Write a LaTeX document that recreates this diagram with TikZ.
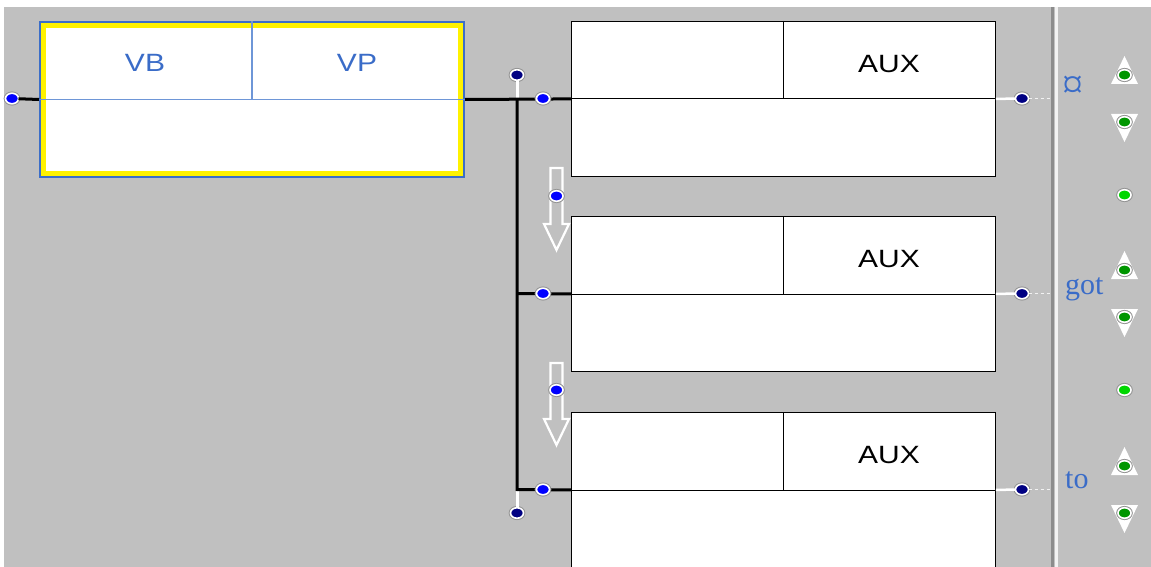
\documentclass[tikz,border=0pt]{standalone}
\usepackage{fontspec}
\setmainfont{Liberation Serif}
\newfontfamily\boxfont[FakeStretch=1.2]{Liberation Sans}
\usepackage{tikz}
\usetikzlibrary{calc,positioning,shapes.geometric}
\definecolor{panel}{RGB}{192,192,192}
\definecolor{rulegray}{RGB}{140,140,140}
\definecolor{catblue}{RGB}{58,108,200}
\definecolor{edgeblue}{RGB}{60,110,200}
\definecolor{divblue}{RGB}{110,150,215}
\definecolor{navy}{RGB}{0,0,130}
\definecolor{dotgreen}{RGB}{0,215,0}
\definecolor{trigreen}{RGB}{0,150,0}
\tikzset{
	lbox/.style={draw=edgeblue, line width=2pt, fill=white, minimum width=424pt, minimum height=155pt, inner sep=0pt, anchor=north west},
	rbox/.style={draw=black, line width=0.8pt, fill=white, minimum width=424pt, minimum height=155pt, inner sep=0pt, anchor=north west},
	cat/.style={font=\boxfont\fontsize{25}{30}\selectfont, text=catblue, inner sep=0pt},
	aux/.style={font=\boxfont\fontsize{25}{30}\selectfont, inner sep=0pt},
	word/.style={font=\fontsize{30}{36}\selectfont, text=catblue, inner sep=0pt, anchor=base west},
	pin/.style={ellipse, minimum width=13pt, minimum height=10.5pt, inner sep=0pt, outer sep=0pt, fill=blue, draw=white, line width=1.6pt, preaction={draw=gray!85, line width=3.6pt}},
	npin/.style={pin, fill=navy},
	gpin/.style={pin, fill=dotgreen},
	tpin/.style={pin, fill=trigreen},
	bar/.style={line width=3pt, black},
	wbar/.style={line width=3pt, white},
	trail/.style={white!90!gray, line width=1pt, dash pattern=on 3pt off 3pt},
	flow/.style={draw=white, line width=2.2pt, line join=miter},
}
\begin{document}
\begin{tikzpicture}[x=1pt,y=-1pt]
		\useasboundingbox (0,0) rectangle (1151,567);
		\fill[white] (0,0) rectangle (1151,567); \fill[panel] (4,7) rectangle (1151,567);
		\draw[rulegray, line width=2.5pt] (1052.5,7) -- (1052.5,567); \draw[white!90!gray, line width=3.5pt] (1056.5,7) -- (1056.5,567);

		\node[lbox] (vp) at (39,21) {};
		\draw[yellow, line width=5pt] ($(vp.north west)+(4.5,4.5)$) rectangle ($(vp.south east)+(-4.5,-4.5)$);
		\draw[divblue, line width=1.3pt] (vp.west) -- (vp.east); \draw[divblue, line width=1.3pt] (vp.north) -- (vp.center);
		\node[cat] (vb) at (145,63) {VB}; \node[cat] (vpl) at (357,63) {VP};

		\node[rbox] (r1) at (571,21) {}; \draw[line width=0.8pt] (r1.west) -- (r1.east); \draw[line width=0.8pt] (r1.north) -- (r1.center); \node[aux] (a1) at (889,64) {AUX};
		\node[rbox] (r2) at (571,216) {}; \draw[line width=0.8pt] (r2.west) -- (r2.east); \draw[line width=0.8pt] (r2.north) -- (r2.center); \node[aux] (a2) at (889,259) {AUX};
		\node[rbox] (r3) at (571,412) {}; \draw[line width=0.8pt] (r3.west) -- (r3.east); \draw[line width=0.8pt] (r3.north) -- (r3.center); \node[aux] (a3) at (889,455) {AUX};

		\coordinate (j1) at (517,98.5); \coordinate (j2) at (517,293.5); \coordinate (j3) at (517,489.5);
		\node[npin] (tap) at (517,75) {}; \node[npin] (tail) at (517,513) {};
		\draw[wbar] (tap) -- (j1); \draw[wbar] (j3) -- (tail);
		\node[pin] (src) at (12,98.5) {}; \draw[bar] (src) -- (vp.west);
		\draw[bar] (vp.east) -- (r1.west); \draw[bar] (j1) -- (j3) -- (r3.west); \draw[bar] (j2) -- (r2.west);
		\node[pin] (p1) at (543,98.5) {}; \node[pin] (p2) at (543,293.5) {}; \node[pin] (p3) at (543,489.5) {};

		\draw[flow] (550.5,168) -- (562.5,168) -- (562.5,224) -- (569,224) -- (556.5,250) -- (544,224) -- (550.5,224) -- cycle; \node[pin] (f1) at (556.5,196) {};
		\draw[flow] (550.5,363) -- (562.5,363) -- (562.5,419) -- (569,419) -- (556.5,445) -- (544,419) -- (550.5,419) -- cycle; \node[pin] (f2) at (556.5,390) {};

		\node[npin] (o1) at (1022,98.5) {}; \coordinate (e1) at (1051,98.5); \draw[white, line width=2.5pt] (r1.east) -- (o1); \draw[trail] (o1) -- (e1);
		\node[npin] (o2) at (1022,293.5) {}; \coordinate (e2) at (1051,293.5); \draw[white, line width=2.5pt] (r2.east) -- (o2); \draw[trail] (o2) -- (e2);
		\node[npin] (o3) at (1022,489.5) {}; \coordinate (e3) at (1051,489.5); \draw[white, line width=2.5pt] (r3.east) -- (o3); \draw[trail] (o3) -- (e3);
		\node[word, font=\fontsize{42}{48}\selectfont] (w1) at (1062,99) {¤}; \node[word] (w2) at (1065,294) {got}; \node[word] (w3) at (1065,488) {to};

		\fill[white] (1111,84) -- (1138,84) -- (1124.5,56) -- cycle; \node[tpin] (u1) at (1124.5,75) {};
		\fill[white] (1111,114) -- (1138,114) -- (1124.5,142) -- cycle; \node[tpin] (d1) at (1124.5,122) {};
		\node[gpin] (g1) at (1124.5,195) {};
		\fill[white] (1111,279) -- (1138,279) -- (1124.5,251) -- cycle; \node[tpin] (u2) at (1124.5,270) {};
		\fill[white] (1111,309) -- (1138,309) -- (1124.5,337) -- cycle; \node[tpin] (d2) at (1124.5,317) {};
		\node[gpin] (g2) at (1124.5,390) {};
		\fill[white] (1111,475) -- (1138,475) -- (1124.5,447) -- cycle; \node[tpin] (u3) at (1124.5,466) {};
		\fill[white] (1111,505) -- (1138,505) -- (1124.5,533) -- cycle; \node[tpin] (d3) at (1124.5,513) {};
	\end{tikzpicture}
\end{document}
